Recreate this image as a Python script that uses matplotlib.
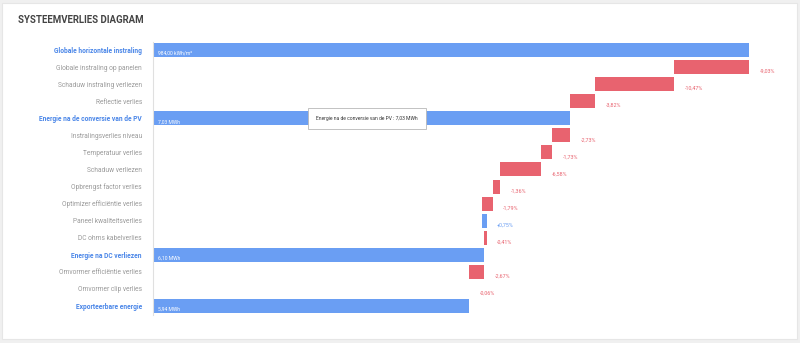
import numpy as np
import matplotlib.pyplot as plt
from matplotlib.patches import FancyBboxPatch

plt.rcParams['font.family'] = ['Roboto', 'DejaVu Sans']

# Data
labels = ['Globale horizontale instraling', 'Globale instraling op panelen',
          'Schaduw instraling verliezen', 'Reflectie verlies',
          'Energie na de conversie van de PV', 'Instralingsverlies niveau',
          'Temperatuur verlies', 'Schaduw verliezen', 'Opbrengst factor verlies',
          'Optimizer efficiëntie verlies', 'Paneel kwaliteitsverlies',
          'DC ohms kabelverlies', 'Energie na DC verliezen',
          'Omvormer efficiëntie verlies', 'Omvormer clip verlies',
          'Exporteerbare energie']
# None = total row, otherwise change in percent
changes = [None, -9.03, -10.47, -3.82, None, -2.73, -1.73, -6.58, -1.36,
           -1.79, 0.75, -0.41, None, -2.67, -0.06, None]
total_texts = ['984,00 kWh/m²', '7,03 MWh', '6,10 MWh', '5,94 MWh']

blue = '#6a9ef3'
red = '#e8636f'
grey = '#9a9a9a'

fig = plt.figure(figsize=(8, 3.43), dpi=100)
fig.patch.set_facecolor('#f0f0f0')
card = FancyBboxPatch((2 / 800, 4 / 343), 795 / 800, 336 / 343,
                      boxstyle='square,pad=0', transform=fig.transFigure,
                      facecolor='white', edgecolor='#e6e6e6', lw=0.8, zorder=-5)
fig.patches.append(card)
fig.text(18 / 800, 1 - 20 / 343, 'SYSTEEMVERLIES DIAGRAM', fontsize=6.9, fontweight='bold',
         color='#444444', va='center', ha='left')

ax = fig.add_axes([153 / 800, 1 - 314.5 / 343, 637 / 800, 273 / 343])
ax.set_facecolor('none')

level = 100.0
ti = 0
n = len(labels)
for i, (lab, ch) in enumerate(zip(labels, changes)):
    if ch is None:
        ax.barh(i, level, left=0, height=0.82, color=blue, zorder=2)
        ax.text(28.5, i + 0.2, total_texts[ti], color='white', fontsize=3.6,
                va='center', ha='left', zorder=3)
        ti += 1
    else:
        new = level * (1 + ch / 100)
        col = blue if ch > 0 else red
        ax.barh(i, new - level, left=level, height=0.82, color=col, zorder=2)
        txt = ('+' if ch > 0 else '') + f'{ch:.2f}%'.replace('.', ',')
        ax.text(max(level, new) + 1.3, i + 0.25, txt, color=col, fontsize=3.9,
                va='center', ha='left')
        level = new

ax.set_xlim(27.9, 105)
ax.set_ylim(n - 0.5, -0.5)
ax.set_yticks(range(n))
ax.set_yticklabels(labels, fontsize=4.8)
for t, ch in zip(ax.get_yticklabels(), changes):
    if ch is None:
        t.set_color('#4a86e8')
        t.set_fontweight('bold')
    else:
        t.set_color(grey)
ax.tick_params(axis='y', length=0, pad=8)
ax.set_xticks([])
for s in ['top', 'right', 'bottom']:
    ax.spines[s].set_visible(False)
ax.spines['left'].set_color('#e0e0e0')
ax.spines['left'].set_linewidth(0.8)

# tooltip
ax.annotate('Energie na de conversie van de PV : 7,03 MWh', xy=(367 / 800, 1 - 119 / 343),
            xycoords='figure fraction', fontsize=3.6, color='#333333', va='center', ha='center',
            bbox=dict(boxstyle='square,pad=1.6', fc='white', ec='#b8b8b8', lw=0.6), zorder=5)

fig.savefig('out.png', dpi=100, facecolor=fig.get_facecolor())
